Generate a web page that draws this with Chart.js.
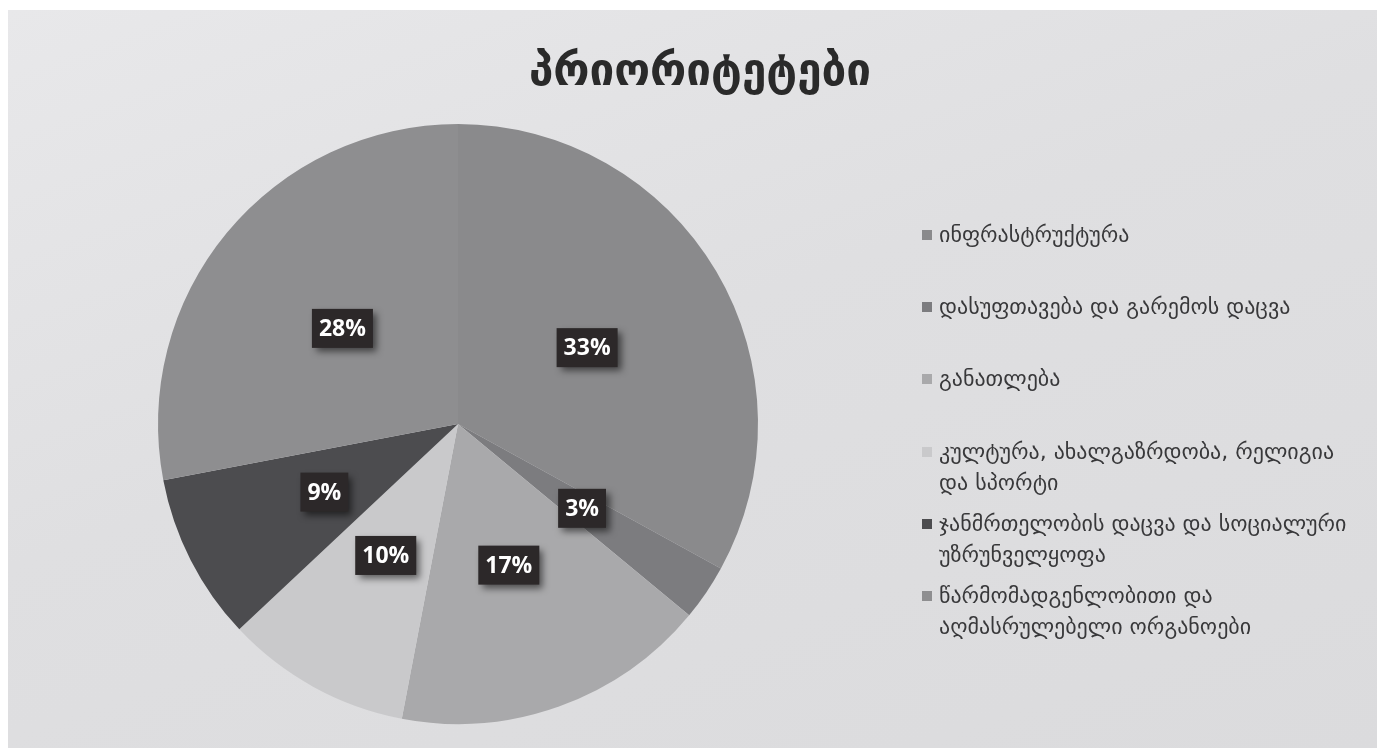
<!DOCTYPE html>
<html>
<head>
<meta charset="utf-8">
<script src="https://cdn.jsdelivr.net/npm/chart.js@4/dist/chart.umd.min.js"></script>
<style>
  html, body { margin: 0; padding: 0; background: #ffffff; }
  #wrap { position: absolute; left: 0; top: 0; width: 1377px; height: 748px; }
  #bg { position: absolute; left: 8px; top: 10px; width: 1369px; height: 738px;
        background: linear-gradient(160deg, #e8e8ea 0%, #dfdfe1 45%, #dbdbdd 100%); }
  canvas { position: absolute; left: 0; top: 0; }
</style>
</head>
<body>
<div id="wrap">
  <div id="bg"></div>
  <canvas id="c" width="1377" height="748"></canvas>
</div>
<script>
const chartTitle = "პრიორიტეტები";
const categories = [
  ["ინფრასტრუქტურა"],
  ["დასუფთავება და გარემოს დაცვა"],
  ["განათლება"],
  ["კულტურა, ახალგაზრდობა, რელიგია", "და სპორტი"],
  ["ჯანმრთელობის დაცვა და სოციალური", "უზრუნველყოფა"],
  ["წარმომადგენლობითი და", "აღმასრულებელი ორგანოები"]
];
const shares = [33, 3, 17, 10, 9, 28];
const sliceColors = ["#8a8a8c", "#7c7c7f", "#a9a9ab", "#c9c9cb", "#4c4c4f", "#8e8e90"];
const legendRows = [236, 308, 380, 453, 525, 597];

const titlePlugin = {
  id: 'titleDraw',
  afterDraw(chart) {
    const ctx = chart.ctx;
    ctx.save();
    ctx.font = "bold 44px 'DejaVu Sans'";
    ctx.fillStyle = "#2a2a2a";
    ctx.textAlign = "center";
    ctx.textBaseline = "middle";
    ctx.fillText(chartTitle, 700, 74);
    ctx.restore();
  }
};

const legendPlugin = {
  id: 'sideLegend',
  afterDraw(chart) {
    const ctx = chart.ctx;
    ctx.save();
    const labels = chart.data.labels;
    const colors = chart.data.datasets[0].backgroundColor;
    labels.forEach((lines, i) => {
      const y0 = legendRows[i];
      ctx.fillStyle = colors[i];
      ctx.fillRect(922, y0 - 6, 10, 10);
      ctx.fillStyle = "#38383a";
      ctx.font = "22px 'DejaVu Sans'";
      ctx.textAlign = "left";
      ctx.textBaseline = "middle";
      lines.forEach((ln, j) => ctx.fillText(ln, 939, y0 + j * 31));
    });
    ctx.restore();
  }
};

const labelPlugin = {
  id: 'boxLabels',
  afterDatasetsDraw(chart) {
    const ctx = chart.ctx;
    const meta = chart.getDatasetMeta(0);
    const data = chart.data.datasets[0].data;
    ctx.save();
    meta.data.forEach((arc, i) => {
      const p = arc.getCenterPoint();
      const txt = data[i] + "%";
      ctx.font = "bold 23px 'Open Sans'";
      const w = ctx.measureText(txt).width + 14;
      const h = 39;
      ctx.save();
      ctx.shadowColor = "rgba(0,0,0,0.55)";
      ctx.shadowBlur = 7;
      ctx.shadowOffsetX = 4;
      ctx.shadowOffsetY = 4;
      ctx.fillStyle = "#2c2829";
      ctx.fillRect(p.x - w / 2, p.y - h / 2, w, h);
      ctx.restore();
      ctx.fillStyle = "#ffffff";
      ctx.textAlign = "center";
      ctx.textBaseline = "middle";
      ctx.fillText(txt, p.x, p.y + 1);
    });
    ctx.restore();
  }
};

new Chart(document.getElementById('c'), {
  type: 'pie',
  data: {
    labels: categories,
    datasets: [{
      data: shares,
      backgroundColor: sliceColors,
      borderWidth: 0
    }]
  },
  options: {
    responsive: false,
    animation: false,
    layout: { padding: { left: 158, right: 619, top: 124, bottom: 24 } },
    plugins: {
      legend: { display: false },
      title: { display: false },
      tooltip: { enabled: false }
    }
  },
  plugins: [titlePlugin, legendPlugin, labelPlugin]
});
</script>
</body>
</html>
